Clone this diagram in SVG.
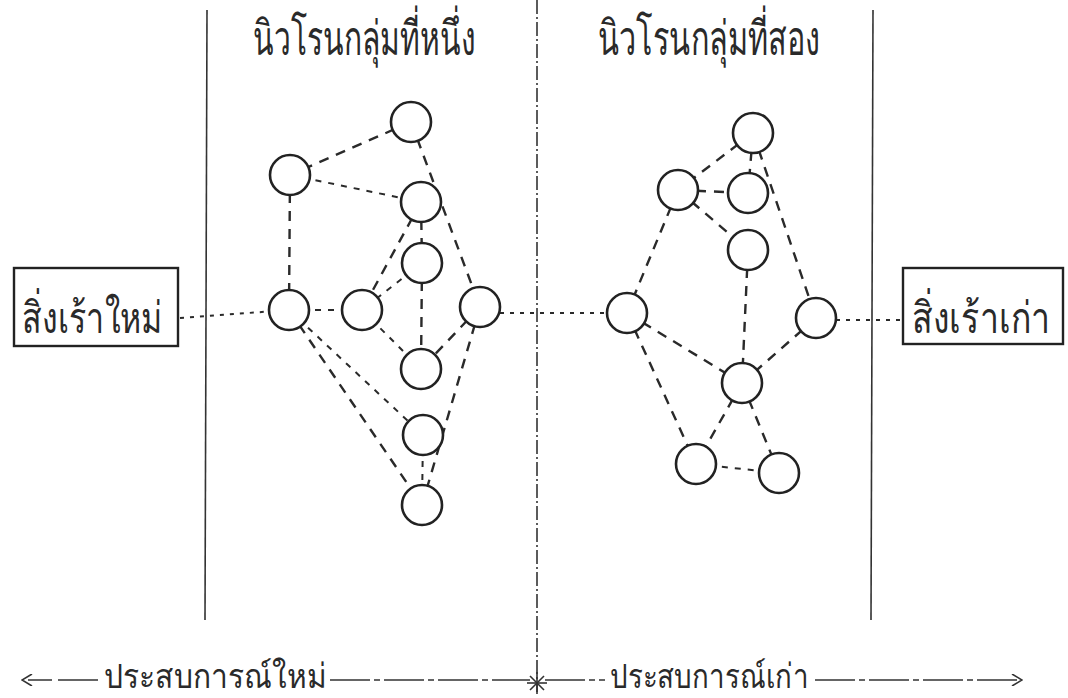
<svg xmlns="http://www.w3.org/2000/svg" width="1068" height="698" viewBox="0 0 1068 698">
<style>
.bg{fill:#ffffff}
.node circle{fill:#ffffff;stroke:#222;stroke-width:2.6}
.e{stroke:#2a2a2a;stroke-width:2.4;fill:none;stroke-dasharray:10 8}
.f{stroke:#2a2a2a;stroke-width:2;fill:none;stroke-dasharray:6 7}
.d{stroke:#2a2a2a;stroke-width:2;fill:none;stroke-dasharray:4 6}
.vl{stroke:#333;stroke-width:1.6;fill:none}
.vm{stroke:#333;stroke-width:1.6;fill:none;stroke-dasharray:14 3 2 3}
.box{fill:#fff;stroke:#222;stroke-width:2.4}
.t{font-family:"Noto Sans","DejaVu Sans",sans-serif;fill:#2a2a2a}
.ar{stroke:#333;stroke-width:1.6;fill:none}
</style>
<defs>
<marker id="ah" viewBox="0 0 12 12" refX="11" refY="6" markerWidth="12" markerHeight="12" markerUnits="userSpaceOnUse" orient="auto-start-reverse">
<path d="M1,0 L11,6 L1,12" fill="none" stroke="#333" stroke-width="1.6"/>
</marker>
</defs>
<rect class="bg" x="0" y="0" width="1068" height="698"/>

<g id="dividers">
<line class="vl" x1="207" y1="10" x2="205" y2="620"/>
<line class="vm" x1="537" y1="0" x2="537" y2="692"/>
<line class="vl" x1="873" y1="10" x2="871" y2="620"/>
</g>

<g id="connectors">
<line class="d" x1="180" y1="318" x2="289" y2="310"/>
<line class="e" x1="411" y1="122" x2="290" y2="175"/>
<line class="e" x1="411" y1="122" x2="480" y2="307"/>
<line class="f" x1="290" y1="175" x2="421" y2="202"/>
<line class="e" x1="290" y1="175" x2="289" y2="310"/>
<line class="e" x1="421" y1="202" x2="422" y2="263"/>
<line class="e" x1="421" y1="202" x2="362" y2="310"/>
<line class="f" x1="422" y1="263" x2="362" y2="310"/>
<line class="e" x1="422" y1="263" x2="421" y2="369"/>
<line class="f" x1="289" y1="310" x2="362" y2="310"/>
<line class="f" x1="362" y1="310" x2="421" y2="369"/>
<line class="f" x1="289" y1="310" x2="423" y2="435"/>
<line class="e" x1="289" y1="310" x2="422" y2="505"/>
<line class="e" x1="480" y1="307" x2="421" y2="369"/>
<line class="e" x1="480" y1="307" x2="422" y2="505"/>
<line class="f" x1="423" y1="435" x2="422" y2="505"/>
<line class="d" x1="480" y1="313" x2="627" y2="313"/>

<line class="e" x1="753" y1="133" x2="678" y2="190"/>
<line class="e" x1="753" y1="133" x2="748" y2="193"/>
<line class="e" x1="753" y1="133" x2="816" y2="318"/>
<line class="e" x1="678" y1="190" x2="748" y2="193"/>
<line class="e" x1="678" y1="190" x2="748" y2="250"/>
<line class="e" x1="678" y1="190" x2="627" y2="313"/>
<line class="e" x1="748" y1="250" x2="742" y2="383"/>
<line class="e" x1="627" y1="313" x2="742" y2="383"/>
<line class="e" x1="627" y1="313" x2="696" y2="464"/>
<line class="e" x1="816" y1="318" x2="742" y2="383"/>
<line class="e" x1="742" y1="383" x2="696" y2="464"/>
<line class="e" x1="742" y1="383" x2="779" y2="473"/>
<line class="f" x1="696" y1="464" x2="779" y2="473"/>
<line class="d" x1="816" y1="320" x2="903" y2="320"/>
</g>

<g id="n1" class="node"><circle cx="411" cy="122" r="20"/></g>
<g id="n2" class="node"><circle cx="290" cy="175" r="20"/></g>
<g id="n3" class="node"><circle cx="421" cy="202" r="20"/></g>
<g id="n4" class="node"><circle cx="422" cy="263" r="20"/></g>
<g id="n5" class="node"><circle cx="289" cy="310" r="20"/></g>
<g id="n6" class="node"><circle cx="362" cy="310" r="20"/></g>
<g id="n7" class="node"><circle cx="480" cy="307" r="20"/></g>
<g id="n8" class="node"><circle cx="421" cy="369" r="20"/></g>
<g id="n9" class="node"><circle cx="423" cy="435" r="20"/></g>
<g id="n10" class="node"><circle cx="422" cy="505" r="20"/></g>

<g id="m1" class="node"><circle cx="753" cy="133" r="20"/></g>
<g id="m2" class="node"><circle cx="678" cy="190" r="20"/></g>
<g id="m3" class="node"><circle cx="748" cy="193" r="20"/></g>
<g id="m4" class="node"><circle cx="748" cy="250" r="20"/></g>
<g id="m5" class="node"><circle cx="627" cy="313" r="20"/></g>
<g id="m6" class="node"><circle cx="816" cy="318" r="20"/></g>
<g id="m7" class="node"><circle cx="742" cy="383" r="20"/></g>
<g id="m8" class="node"><circle cx="696" cy="464" r="20"/></g>
<g id="m9" class="node"><circle cx="779" cy="473" r="20"/></g>

<g id="stim-new">
<rect class="box" x="14" y="268" width="164" height="78"/>
<text class="t" transform="translate(22,333) scale(1,1.5)" font-size="29" textLength="140" lengthAdjust="spacingAndGlyphs">สิ่งเร้าใหม่</text>
</g>
<g id="stim-old">
<rect class="box" x="903" y="268" width="160" height="76"/>
<text class="t" transform="translate(912,333) scale(1,1.5)" font-size="29" textLength="138" lengthAdjust="spacingAndGlyphs">สิ่งเร้าเก่า</text>
</g>

<g id="labels">
<text class="t" x="253" y="55" font-size="48" textLength="222" lengthAdjust="spacingAndGlyphs">นิวโรนกลุ่มที่หนึ่ง</text>
<text class="t" x="598" y="55" font-size="48" textLength="222" lengthAdjust="spacingAndGlyphs">นิวโรนกลุ่มที่สอง</text>
</g>

<g id="experience">
<line class="ar" x1="98" y1="680" x2="22" y2="680" stroke-dasharray="40 6 24 6" marker-end="url(#ah)"/>
<text class="t" x="104" y="688" font-size="34" textLength="222" lengthAdjust="spacingAndGlyphs">ประสบการณ์ใหม่</text>
<line class="ar" x1="330" y1="680" x2="530" y2="680" stroke-dasharray="40 4 6 4"/>
<g id="star" stroke="#333" stroke-width="1.6">
<line x1="527" y1="683" x2="547" y2="683"/>
<line x1="537" y1="672" x2="537" y2="694"/>
<line x1="530" y1="676" x2="544" y2="690"/>
<line x1="544" y1="676" x2="530" y2="690"/>
</g>
<line class="ar" x1="545" y1="680" x2="605" y2="680" stroke-dasharray="40 4 6 4"/>
<text class="t" x="610" y="688" font-size="34" textLength="198" lengthAdjust="spacingAndGlyphs">ประสบการณ์เก่า</text>
<line class="ar" x1="815" y1="680" x2="1022" y2="680" stroke-dasharray="40 4 6 4" marker-end="url(#ah)"/>
</g>
</svg>
